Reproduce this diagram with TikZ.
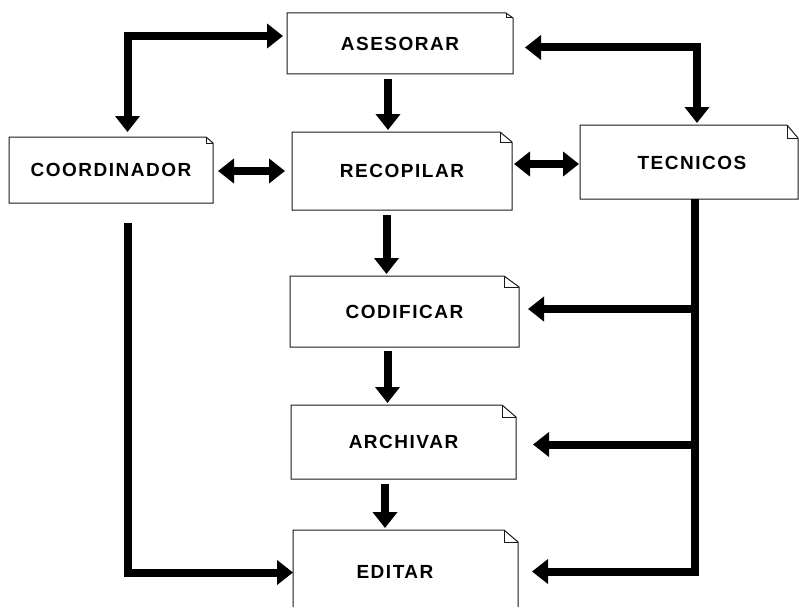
\documentclass[tikz,border=0pt]{standalone}
\usepackage{fontspec}
\newfontfamily\lblfont{Liberation Sans}[LetterSpace=8]
\usetikzlibrary{arrows.meta,calc}

% page/sheet outline with a dog-eared top-right corner
\newcommand\dogear[3]{%
  \draw[boxline] (#1.south west) -- (#1.north west) -- ([xshift=-#2]#1.north east)
    -- ([yshift=-#3]#1.north east) -- (#1.south east) -- cycle;
  \draw[boxline] ([xshift=-#2]#1.north east) |- ([yshift=-#3]#1.north east);}

\tikzset{
  box/.style={inner sep=0pt, outer sep=0pt, font=\lblfont\bfseries\fontsize{19}{22}\selectfont},
  boxline/.style={line width=1pt, draw=black!90, line join=miter},
  conn/.style={line width=8pt, line join=miter, >={Triangle[length=16pt,width=24pt]}},
}

\begin{document}
\begin{tikzpicture}[x=1pt,y=-1pt]
\useasboundingbox (0,0) rectangle (799,607);

% boxes
\node[box, minimum width=226pt, minimum height=61pt] (ases)  at (400,43.5)    {ASESORAR};
\node[box, minimum width=204pt, minimum height=66pt] (coord) at (111,170)     {COORDINADOR};
\node[box, minimum width=220pt, minimum height=78pt] (recop) at (402,171)     {RECOPILAR};
\node[box, minimum width=218pt, minimum height=74pt] (tecn)  at (689,162)     {};
\node[box] (tecnlbl) at (692,163) {TECNICOS};
\node[box, minimum width=229pt, minimum height=71pt] (codif) at (404.5,311.5) {CODIFICAR};
\node[box, minimum width=225pt, minimum height=74pt] (arch)  at (403.5,442)   {ARCHIVAR};
\node[box, minimum width=225pt, minimum height=77pt] (edit)  at (405.5,568.5) {};
\node[box] (editlbl) at (395,572) {EDITAR};

\dogear{ases}{7pt}{5pt}
\dogear{coord}{7pt}{6pt}
\dogear{recop}{12pt}{10pt}
\dogear{tecn}{11pt}{13pt}
\dogear{codif}{15pt}{11pt}
\dogear{arch}{14pt}{12pt}
% the last sheet runs off the bottom edge
\draw[boxline] (edit.south west) -- (edit.north west) -- ([xshift=-14pt]edit.north east)
  -- ([yshift=-12pt]edit.north east) -- (edit.south east);
\draw[boxline] ([xshift=-14pt]edit.north east) |- ([yshift=-12pt]edit.north east);

% connectors
\draw[conn,<->] ([xshift=-4pt,yshift=7.5pt]ases.west) -| ([xshift=16.5pt,yshift=5pt]coord.north);
\draw[conn,<->] ([xshift=12pt,yshift=-4pt]ases.east) -| ([xshift=8pt,yshift=2pt]tecn.north);
\draw[conn,->] ([xshift=-12pt,yshift=-5pt]ases.south) -- ([xshift=-14pt,yshift=2pt]recop.north);
\draw[conn,<->] ([xshift=5pt,yshift=-1pt]coord.east) -- ([xshift=-7pt]recop.west);
\draw[conn,<->] ([xshift=2pt,yshift=7pt]recop.east) -- ([xshift=-1pt,yshift=-2pt]tecn.west);
\draw[conn,->] ([xshift=-15.5pt,yshift=-5pt]recop.south) -- ([xshift=-18pt,yshift=2pt]codif.north);
\draw[conn,->] ([xshift=-17pt,yshift=-4pt]codif.south) -- ([xshift=-16pt,yshift=2pt]arch.north);
\draw[conn,->] ([xshift=-18.5pt,yshift=-5pt]arch.south) -- ([xshift=-20.5pt,yshift=2pt]edit.north);
\draw[conn,->] ([xshift=16.5pt,yshift=-20pt]coord.south) |- ([yshift=-4pt]edit.west);

% trunk from TECNICOS with its branches
\coordinate (trunk) at ([xshift=6pt]tecn.south);
\coordinate (tipc) at ([xshift=9pt,yshift=2.5pt]codif.east);
\coordinate (tipa) at ([xshift=17pt,yshift=-2.5pt]arch.east);
\draw[conn,->] (trunk) |- ([xshift=14pt,yshift=-3pt]edit.east);
\draw[conn,->] (trunk |- tipc) -- (tipc);
\draw[conn,->] (trunk |- tipa) -- (tipa);
\end{tikzpicture}
\end{document}
